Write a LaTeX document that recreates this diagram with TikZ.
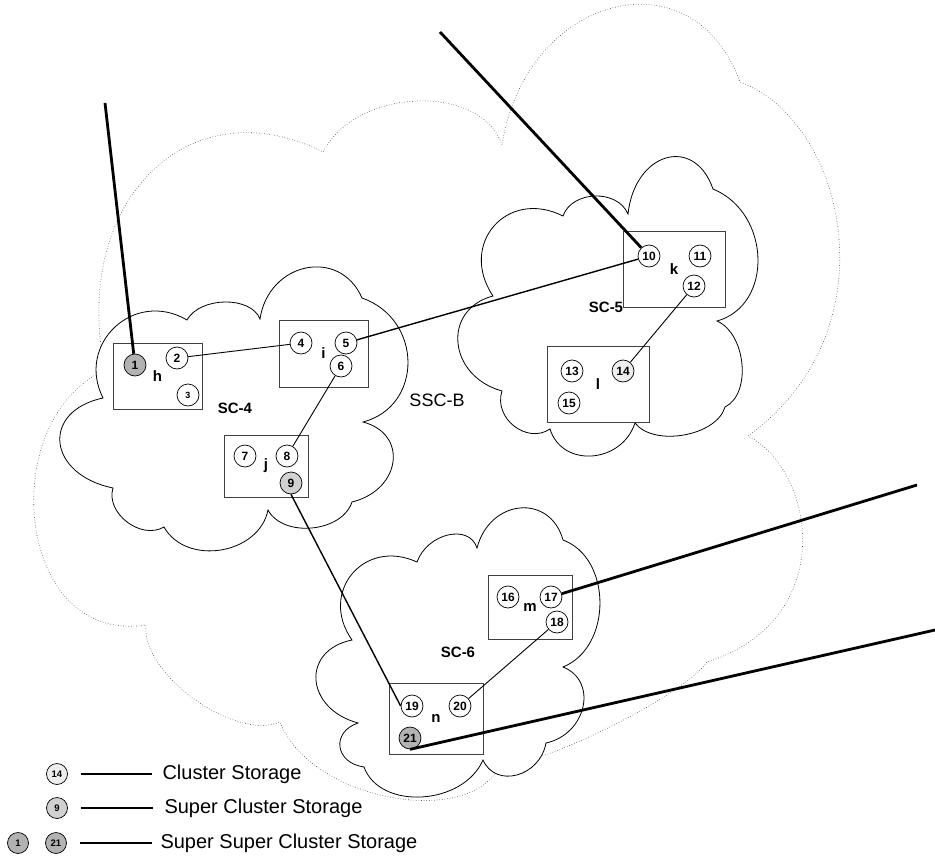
\documentclass[tikz,border=0pt]{standalone}
\usepackage{fontspec}
\setmainfont{Liberation Sans}
\usetikzlibrary{calc}

\begin{document}
\begin{tikzpicture}[x=1pt,y=-1pt,
  lobe/.style={to path={.. controls ($0.1833*(\tikztostart)+1.3333*(#1)-0.5167*(\tikztotarget)$) and ($0.1833*(\tikztotarget)+1.3333*(#1)-0.5167*(\tikztostart)$) .. (\tikztotarget)}},
  ssc/.style={draw=black!70,dotted,line width=0.6pt},
  sc/.style={draw=black,fill=white,line width=0.8pt},
  box/.style={draw=black!75,fill=white,line width=0.8pt,inner sep=0pt,font=\fontsize{15}{15}\selectfont\bfseries},
  st/.style={circle,draw,fill=white,line width=0.7pt,minimum size=22pt,inner sep=0pt,font=\fontsize{12}{12}\selectfont\bfseries},
  cst/.style={st,fill=black!7},
  scst/.style={st,fill=black!18},
  sscst/.style={st,fill=black!30},
  leg/.style={minimum size=21pt,font=\fontsize{9.5}{9.5}\selectfont\bfseries},
  sclbl/.style={font=\fontsize{15}{15}\selectfont\bfseries},
  legtxt/.style={anchor=west,font=\fontsize{20}{24}\selectfont},
  link/.style={line width=0.9pt},
  mlink/.style={line width=1.4pt},
  uplink/.style={line width=2.8pt},
  legline/.style={line width=1.3pt}]

\useasboundingbox (0,0) rectangle (935,859);

%%%%%%%%%%%%%%%%%%%%%%%%
% SSC-B
%%%%%%%%%%%%%%%%%%%%%%%%

\draw[ssc] (105,370) .. controls (70,200) and (190,85) .. (323,152)
  to[lobe={417,101}] (502,145)
  to[lobe={612,8}] (740,82)
  .. controls (845,120) and (895,330) .. (748,436)
  .. controls (815,470) and (840,620) .. (707,662)
  to[lobe={610,727}] (500,765)
  .. controls (470,830) and (310,800) .. (280,722)
  to[lobe={194,699}] (146,625)
  .. controls (15,645) and (-5,420) .. (105,370);

\node[font=\fontsize{18}{18}\selectfont](SSCB) at (437,400) {SSC-B};

%%%%%%%%%%%%%%%%%%%%%%%%
% SC-4
%%%%%%%%%%%%%%%%%%%%%%%%

\draw[sc] (103,398) to[lobe={115,327}] (187,320) to[lobe={225,302}] (260,319)
  to[lobe={306,268}] (362,298) to[lobe={408,362}] (363,422) to[lobe={393,462}] (352,502)
  to[lobe={312,528}] (268,510) to[lobe={221,550}] (164,527) to[lobe={127,522}] (113,488)
  to[lobe={60,443}] (103,398) -- cycle;

\node[box,minimum width=89pt,minimum height=66pt](h) at (157.5,376) {h};
\node[box,minimum width=89pt,minimum height=67pt](i) at (323.5,353.5) {i};
\node[box,minimum width=84pt,minimum height=62pt](j) at (266,466) {j};

\node[sscst](1) at (135,365) {1};
\node[st](2) at (177,358) {2};
\node[st,font=\fontsize{9}{9}\selectfont\bfseries](3) at (188,395) {3};
\node[st](4) at (301,343) {4};
\node[st](5) at (346,343) {5};
\node[st](6) at (341,366) {6};
\node[st](7) at (245,456) {7};
\node[st](8) at (287,456) {8};
\node[scst](9) at (291,483) {9};

\node[sclbl](SC4) at (235,408) {SC-4};

%%%%%%%%%%%%%%%%%%%%%%%%
% SC-5
%%%%%%%%%%%%%%%%%%%%%%%%

\draw[sc] (493,296) to[lobe={494,226}] (563,216) to[lobe={595,196}] (628,214)
  to[lobe={666,158}] (713,189) to[lobe={758,258}] (717,321) to[lobe={742,364}] (725,407)
  to[lobe={684,435}] (635,423) to[lobe={592,456}] (550,429) to[lobe={514,426}] (502,391)
  to[lobe={458,343}] (493,296) -- cycle;

\node[box,minimum width=102pt,minimum height=76pt](k) at (674,269) {k};
\node[box,minimum width=102pt,minimum height=76pt](l) at (598,384) {l};

\node[st](10) at (649,256) {10};
\node[st](11) at (700,256) {11};
\node[st](12) at (694,286) {12};
\node[st](13) at (572,371) {13};
\node[cst](14) at (623,371) {14};
\node[st](15) at (569,403) {15};

\node[sclbl](SC5) at (606,307) {SC-5};

%%%%%%%%%%%%%%%%%%%%%%%%
% SC-6
%%%%%%%%%%%%%%%%%%%%%%%%

\draw[sc] (352,640) to[lobe={352,574}] (417,562) to[lobe={448,535}] (477,548)
  to[lobe={520,508}] (563,540) to[lobe={600,603}] (563,667) to[lobe={583,707}] (546,743)
  to[lobe={517,775}] (483,760) to[lobe={422,797}] (364,767) to[lobe={340,747}] (358,723)
  to[lobe={316,680}] (352,640) -- cycle;

\node[box,minimum width=84pt,minimum height=64pt](m) at (530,607) {m};
\node[box,minimum width=94pt,minimum height=71pt](n) at (436,718.5) {n};

\node[st](16) at (508,597) {16};
\node[st](17) at (551,597) {17};
\node[st](18) at (557,622) {18};
\node[st](19) at (412,706) {19};
\node[st](20) at (460,706) {20};
\node[sscst](21) at (410,738) {21};

\node[sclbl](SC6) at (458,652) {SC-6};

%%%%%%%%%%%%%%%%%%%%%%%%
% links
%%%%%%%%%%%%%%%%%%%%%%%%

\coordinate(top1) at (105,103);
\coordinate(top10) at (440,32);
\coordinate(out17) at (917,485);
\coordinate(out21) at (935,630);

\draw[uplink] (1) -- (top1);
\draw[uplink] (10) -- (top10);
\draw[uplink] (17) -- (out17);
\draw[uplink] (21.south) -- (out21);

\draw[link] (2) -- (4);
\draw[mlink] (5) -- (10);
\draw[link] (6) -- (8);
\draw[mlink] (9.south) -- (19.west);
\draw[link] (12) -- (14);
\draw[link] (18) -- (20);

%%%%%%%%%%%%%%%%%%%%%%%%
% legend
%%%%%%%%%%%%%%%%%%%%%%%%

\node[cst,leg](lg14) at (57,774) {14};
\node[scst,leg](lg9) at (57,808) {9};
\node[sscst,leg](lg1) at (18,843) {1};
\node[sscst,leg](lg21) at (56,843) {21};

\node[legtxt](cs) at (159,774) {Cluster Storage};
\node[legtxt](scs) at (161,808) {Super Cluster Storage};
\node[legtxt](sscs) at (157,843) {Super Super Cluster Storage};

\draw[legline] ([xshift=13pt]lg14.east) -- ([xshift=-7pt]cs.west);
\draw[legline] ([xshift=13pt]lg9.east) -- ([xshift=-8pt]scs.west);
\draw[legline] ([xshift=13pt]lg21.east) -- ([xshift=-5pt]sscs.west);

\end{tikzpicture}
\end{document}
